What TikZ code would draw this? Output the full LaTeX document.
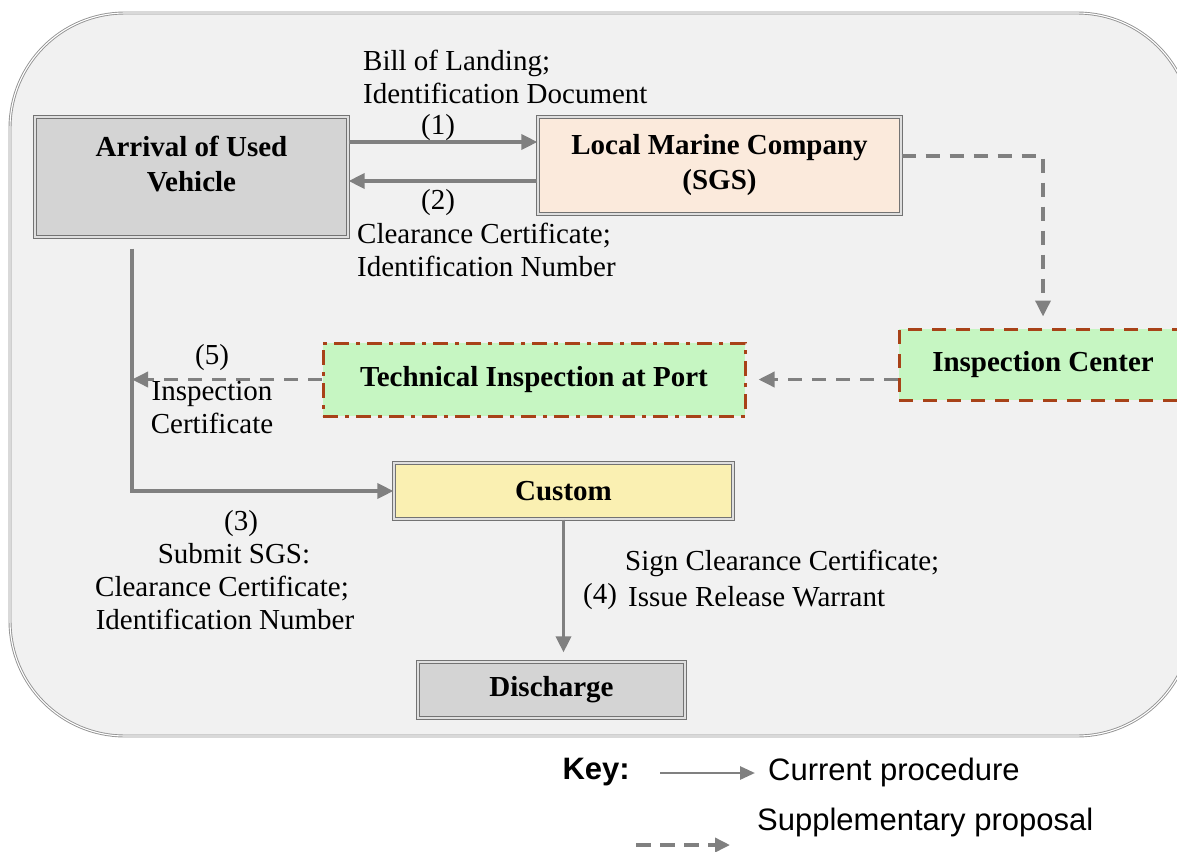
\documentclass[tikz,border=0pt]{standalone}
\usepackage{fontspec}
\setmainfont{Liberation Serif}
\newfontfamily\keyfont{Liberation Sans}
\usetikzlibrary{arrows.meta,calc}
\definecolor{arrowgray}{RGB}{128,128,128}
\definecolor{framefill}{RGB}{241,241,241}
\definecolor{boxgray}{RGB}{212,212,212}
\definecolor{peach}{RGB}{251,234,220}
\definecolor{lightyellow}{RGB}{250,240,178}
\definecolor{lightgreen}{RGB}{198,246,194}
\definecolor{rust}{RGB}{168,66,24}
\begin{document}
\begin{tikzpicture}[x=1pt,y=-1pt,
  framebox/.style={draw=gray!85, double=white, line width=0.9pt, double distance=1.1pt, fill=framefill, rounded corners=115pt},
  box/.style={draw=black!55, double=gray!25, line width=1.2pt, double distance=1.1pt, align=center, inner sep=0pt,
    font=\bfseries\fontsize{29}{35}\selectfont},
  greenbox/.style={draw=rust, line width=3pt, fill=lightgreen, align=center, inner sep=0pt,
    font=\bfseries\fontsize{29}{35}\selectfont},
  txt/.style={inner sep=0pt, font=\fontsize{29}{33}\selectfont},
  cur/.style={draw=arrowgray, line width=3.5pt, -{Triangle[length=16pt,width=15pt]}},
  sup/.style={cur, dash pattern=on 14pt off 10pt},
  keytxt/.style={inner sep=0pt, font=\keyfont\fontsize{31}{36}\selectfont}
]
\useasboundingbox (0,0) rectangle (1177,851);
\begin{scope}
\clip (0,0) rectangle (1177,851);
\draw[framebox] (10,13) rectangle (1192,736);
\end{scope}

% boxes
\node[box, fill=boxgray, minimum width=313pt, minimum height=120pt,
  label={[txt, font=\bfseries\fontsize{29}{35}\selectfont, align=center, yshift=12.5pt]center:{Arrival of Used\\Vehicle}}]
  (arr) at (191.5,177) {};
\node[box, fill=peach, minimum width=363pt, minimum height=97pt] (loc) at (719.5,165.5) {Local Marine Company\\(SGS)};
\node[greenbox, dash pattern=on 14pt off 10pt, minimum width=288pt, minimum height=71pt] (insp) at (1043,364.5) {Inspection Center};
\node[greenbox, dash pattern=on 15pt off 7pt on 4pt off 7pt, minimum width=422pt, minimum height=73pt] (tech) at (534,379.5) {Technical Inspection at Port};
\node[box, fill=lightyellow, minimum width=339pt, minimum height=56pt] (cus) at (563.5,491) {Custom};
\node[box, fill=boxgray, minimum width=267pt, minimum height=56pt] (dis) at (551.5,690) {Discharge};

% helper coordinates
\coordinate (a1) at (0,142);
\coordinate (a2) at (0,181);
\coordinate (bend1) at (1043,156);
\coordinate (bend3) at (132,491);

% connectors
\draw[cur] (arr.east |- a1) -- (loc.west |- a1);
\draw[cur] (loc.west |- a2) -- (arr.east |- a2);
\draw[sup, shorten >=11pt] (loc.east |- bend1) -- (bend1) -- (insp.north -| bend1);
\draw[sup, shorten >=12pt] (insp.west |- tech.east) -- (tech.east);
\draw[sup] (tech.west) -- (tech.west -| bend3);
\draw[cur, shorten <=11pt] (arr.south -| bend3) -- (bend3) -- (cus.west);
\draw[cur, shorten >=9pt] (cus.south) -- (cus.south |- dis.north);

% labels
\node[txt, anchor=west, align=left] (l1) at (363,77) {Bill of Landing;\\Identification Document};
\node[txt] (n1) at (438,128) {(1)};
\node[txt] (n2) at (438,203) {(2)};
\node[txt, anchor=west, align=left] (l2) at (357,250) {Clearance Certificate;\\Identification Number};
\node[txt] (n5) at (212,358) {(5)};
\node[txt, align=center] (l5) at (212,407.5) {Inspection\\Certificate};
\node[txt, align=center] (l3) at (222,570.5) {\hspace*{38pt}(3)\\\hspace*{24pt}Submit SGS:\\Clearance Certificate;\\\hspace*{6pt}Identification Number};
\node[txt, anchor=west] (l4a) at (625,563) {Sign Clearance Certificate;};
\node[txt, anchor=west] (n4) at (583,597) {(4)};
\node[txt, anchor=west] (l4b) at (628,597) {Issue Release Warrant};

% key
\node[keytxt, font=\keyfont\bfseries\fontsize{31}{36}\selectfont, anchor=east] (key) at (630,772) {Key:};
\node[keytxt, anchor=west] (kcur) at (768,772) {Current procedure};
\node[keytxt, anchor=west] (ksup) at (757,822) {Supplementary proposal};
\coordinate (k1s) at (660,773);
\coordinate (k1e) at (755,773);
\coordinate (k2s) at (636,845);
\coordinate (k2e) at (730,845);
\draw[cur, line width=2.8pt, -{Triangle[length=15pt,width=13pt]}] (k1s) -- (k1e);
\draw[sup, line width=3.5pt, dash pattern=on 15pt off 9pt, -{Triangle[length=15pt,width=14pt]}] (k2s) -- (k2e);
\end{tikzpicture}
\end{document}
